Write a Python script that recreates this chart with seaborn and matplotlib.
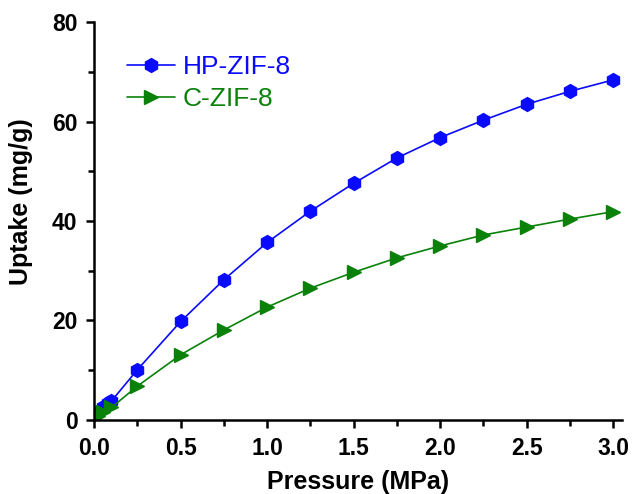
import numpy as np
import pandas as pd
import matplotlib
matplotlib.use("Agg")
import matplotlib.pyplot as plt
import seaborn as sns
from matplotlib.ticker import MultipleLocator

pressure_hp = [0.02, 0.05, 0.08, 0.1, 0.25, 0.5, 0.75, 1.0, 1.25, 1.5, 1.75, 2.0, 2.25, 2.5, 2.75, 3.0]
uptake_hp = [1.5, 2.5, 3.4, 3.8, 10.1, 19.8, 28.2, 35.7, 42.0, 47.6, 52.7, 56.8, 60.3, 63.5, 66.1, 68.4]
pressure_c = [0.02, 0.05, 0.1, 0.25, 0.5, 0.75, 1.0, 1.25, 1.5, 1.75, 2.0, 2.25, 2.5, 2.75, 3.0]
uptake_c = [0.8, 1.5, 2.5, 6.8, 13.1, 18.1, 22.7, 26.5, 29.7, 32.6, 35.0, 37.2, 38.8, 40.4, 41.9]

df = pd.concat([
    pd.DataFrame({"P": pressure_hp, "U": uptake_hp, "S": "HP-ZIF-8"}),
    pd.DataFrame({"P": pressure_c, "U": uptake_c, "S": "C-ZIF-8"}),
])

sns.set_style("ticks", {"axes.edgecolor": "black", "xtick.color": "black",
                        "ytick.color": "black", "text.color": "black",
                        "axes.labelcolor": "black"})
plt.rcParams['font.family'] = ['Liberation Sans', 'DejaVu Sans']

fig = plt.figure(figsize=(6.32, 4.94), dpi=100)
ax = fig.add_axes([0.149, 0.150, 0.835, 0.805])

palette = {"HP-ZIF-8": "#0a0aff", "C-ZIF-8": "#0a820a"}
markers = {"HP-ZIF-8": "h", "C-ZIF-8": ">"}
sns.lineplot(data=df, x="P", y="U", hue="S", style="S", palette=palette,
             markers=markers, dashes=False, markersize=10, markeredgewidth=1,
             linewidth=1.2, ax=ax, sort=False)
for line in ax.lines:
    line.set_markeredgecolor(line.get_color())

ax.set_xlim(0, 3.05)
ax.set_ylim(0, 80)
ax.xaxis.set_major_locator(MultipleLocator(0.5))
ax.xaxis.set_minor_locator(MultipleLocator(0.25))
ax.yaxis.set_major_locator(MultipleLocator(20))
ax.yaxis.set_minor_locator(MultipleLocator(10))
ax.tick_params(which='major', direction='out', width=1.8, length=6, labelsize=16.5, pad=6)
ax.tick_params(which='minor', direction='out', width=1.8, length=4)
for lab in ax.get_xticklabels() + ax.get_yticklabels():
    lab.set_fontweight('bold')
for s in ['left', 'bottom']:
    ax.spines[s].set_linewidth(1.8)
sns.despine(ax=ax)

ax.set_xlabel("Pressure (MPa)", fontsize=18, fontweight='bold')
ax.set_ylabel("Uptake (mg/g)", fontsize=18, fontweight='bold')
ax.xaxis.set_label_coords(0.5, -0.125)
ax.yaxis.set_label_coords(-0.115, 0.548)

leg = ax.legend(loc='upper left', bbox_to_anchor=(0.062, 0.918), frameon=False,
                fontsize=19, handlelength=1.82, handletextpad=0.3, labelspacing=0.3,
                borderpad=0, borderaxespad=0)
for text in leg.get_texts():
    text.set_color(palette[text.get_text()])

fig.savefig("out.png", dpi=100)
